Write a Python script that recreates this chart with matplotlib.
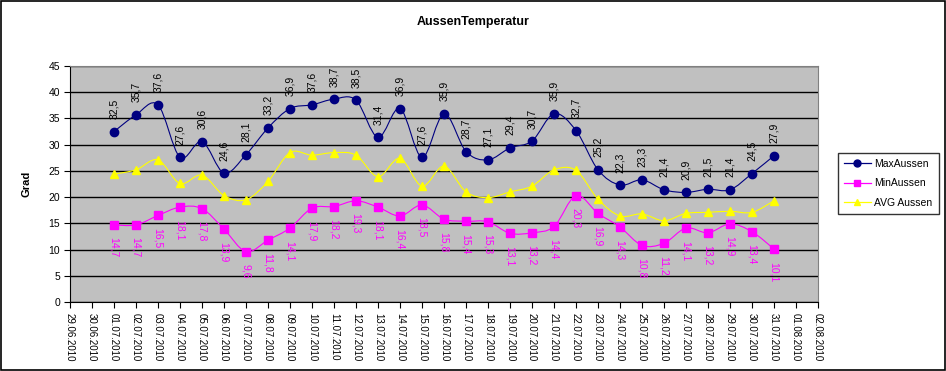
import numpy as np
import matplotlib.pyplot as plt
from matplotlib.path import Path
from matplotlib.patches import PathPatch
from matplotlib.lines import Line2D

plt.rcParams['font.family'] = ['Liberation Sans', 'DejaVu Sans']

# Datumsachse (29.06.2010 - 02.08.2010)
dates = ['29.06.2010', '30.06.2010'] + ['%02d.07.2010' % d for d in range(1, 32)] + ['01.08.2010', '02.08.2010']

# Messwerte 01.07 - 31.07
max_aussen = [32.5, 35.7, 37.6, 27.6, 30.6, 24.6, 28.1, 33.2, 36.9, 37.6, 38.7, 38.5, 31.4, 36.9, 27.6, 35.9,
              28.7, 27.1, 29.4, 30.7, 35.9, 32.7, 25.2, 22.3, 23.3, 21.4, 20.9, 21.5, 21.4, 24.5, 27.9]
min_aussen = [14.7, 14.7, 16.5, 18.1, 17.8, 13.9, 9.6, 11.8, 14.1, 17.9, 18.2, 19.3, 18.1, 16.4, 18.5, 15.8,
              15.4, 15.3, 13.1, 13.2, 14.4, 20.3, 16.9, 14.3, 10.8, 11.2, 14.1, 13.2, 14.9, 13.4, 10.1]
avg_aussen = [24.4, 25.2, 27.1, 22.6, 24.2, 20.3, 19.5, 23.0, 28.5, 28.0, 28.5, 28.0, 23.9, 27.4, 22.1, 25.9,
              21.0, 19.9, 21.0, 22.1, 25.2, 25.1, 19.6, 16.4, 16.8, 15.5, 16.9, 17.1, 17.3, 17.1, 19.3]

x = np.arange(2, 2 + len(max_aussen))


# Geglaettete Linie wie in Excel (Bezier durch die Messpunkte)
def smooth_path(xs, ys):
    pts = np.column_stack([xs, ys]).astype(float)
    verts = [pts[0]]
    codes = [Path.MOVETO]
    n = len(pts)
    for i in range(n - 1):
        p0 = pts[i - 1] if i > 0 else pts[i]
        p1 = pts[i]
        p2 = pts[i + 1]
        p3 = pts[i + 2] if i + 2 < n else pts[i + 1]
        c1 = p1 + (p2 - p0) / 6.0
        c2 = p2 - (p3 - p1) / 6.0
        verts += [c1, c2, p2]
        codes += [Path.CURVE4] * 3
    return Path(verts, codes)


fig = plt.figure(figsize=(9.46, 3.71), dpi=100)
fig.patch.set_facecolor('white')
fig.patches.append(plt.Rectangle((0.001, 0.002), 0.998, 0.996, transform=fig.transFigure,
                                 fill=False, edgecolor='black', linewidth=1.2))

ax = fig.add_axes([0.074, 0.186, 0.7907, 0.636])
ax.set_facecolor('#C0C0C0')

series = [
    (max_aussen, '#000080', 'o', 'MaxAussen'),
    (min_aussen, '#FF00FF', 's', 'MinAussen'),
    (avg_aussen, '#FFFF00', '^', 'AVG Aussen'),
]
handles = []
for vals, col, mk, name in series:
    ax.add_patch(PathPatch(smooth_path(x, vals), facecolor='none', edgecolor=col, linewidth=0.8, zorder=3))
    ax.plot(x, vals, linestyle='none', marker=mk, markersize=6, color=col, zorder=4)
    handles.append(Line2D([], [], color=col, marker=mk, markersize=5, linewidth=0.9, label=name))

# Datenbeschriftungen
for xi, v in zip(x, max_aussen):
    ax.annotate(('%.1f' % v).replace('.', ','), (xi, v), xytext=(0, 9), textcoords='offset points',
                rotation=90, ha='center', va='bottom', fontsize=7.5, color='black', zorder=5)
for xi, v in zip(x, min_aussen):
    ax.annotate(('%.1f' % v).replace('.', ','), (xi, v), xytext=(0, -9), textcoords='offset points',
                rotation=-90, ha='center', va='top', fontsize=7.5, color='#FF00FF', zorder=5)

ax.set_xlim(0, len(dates) - 1)
ax.set_ylim(0, 45)
ax.set_yticks(np.arange(0, 46, 5))
ax.yaxis.grid(True, color='black', linewidth=1.0)
ax.set_axisbelow(True)
ax.set_xticks(np.arange(len(dates)))
ax.set_xticklabels(dates, rotation=-90, fontsize=7)
ax.tick_params(axis='y', labelsize=7.5, length=4, direction='out', pad=3)
ax.tick_params(axis='x', length=4, direction='out', pad=4)
for s in ['top', 'right']:
    ax.spines[s].set_color('#808080')
for s in ['left', 'bottom']:
    ax.spines[s].set_color('black')

ax.set_ylabel('Grad', fontsize=8, fontweight='bold', labelpad=12)
fig.text(0.5, 0.94, 'AussenTemperatur', ha='center', va='center', fontsize=9, fontweight='bold')

leg = fig.legend(handles=handles, loc='upper left', bbox_to_anchor=(0.880, 0.602), fontsize=7.5,
                 frameon=True, fancybox=False, edgecolor='black', handlelength=2.6,
                 borderpad=0.6, labelspacing=0.9, handletextpad=0.3)
leg.get_frame().set_linewidth(1.0)

fig.savefig('out.png', dpi=100)
